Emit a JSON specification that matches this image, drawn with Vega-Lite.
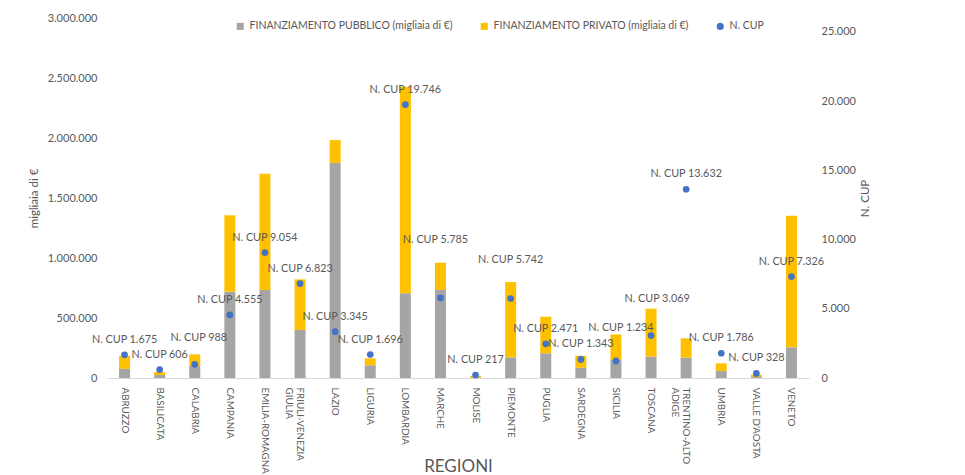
{
  "$schema": "https://vega.github.io/schema/vega-lite/v6.json",
  "width": 702,
  "height": 360,
  "autosize": {"type": "none"},
  "padding": {"left": 107, "top": 18, "right": 156, "bottom": 97},
  "background": "white",
  "config": {
    "view": {"stroke": null},
    "font": "Lato",
    "locale": {"number": {"decimal": ",", "thousands": ".", "grouping": [3], "currency": ["", " €"]}},
    "axis": {"labelColor": "#595959", "titleColor": "#595959", "labelFont": "Lato", "titleFont": "Lato", "grid": false, "ticks": false, "domain": false, "titleFontWeight": "normal"},
    "text": {"baseline": "middle", "align": "center", "fontSize": 10.8, "color": "#595959", "font": "Lato"}
  },
  "datasets": {
    "fin": [
      {"regione": "ABRUZZO", "serie": "FINANZIAMENTO PUBBLICO (migliaia di €)", "valore": 76000},
      {"regione": "ABRUZZO", "serie": "FINANZIAMENTO PRIVATO (migliaia di €)", "valore": 109000},
      {"regione": "BASILICATA", "serie": "FINANZIAMENTO PUBBLICO (migliaia di €)", "valore": 25000},
      {"regione": "BASILICATA", "serie": "FINANZIAMENTO PRIVATO (migliaia di €)", "valore": 25000},
      {"regione": "CALABRIA", "serie": "FINANZIAMENTO PUBBLICO (migliaia di €)", "valore": 100000},
      {"regione": "CALABRIA", "serie": "FINANZIAMENTO PRIVATO (migliaia di €)", "valore": 97000},
      {"regione": "CAMPANIA", "serie": "FINANZIAMENTO PUBBLICO (migliaia di €)", "valore": 719000},
      {"regione": "CAMPANIA", "serie": "FINANZIAMENTO PRIVATO (migliaia di €)", "valore": 637000},
      {"regione": "EMILIA-ROMAGNA", "serie": "FINANZIAMENTO PUBBLICO (migliaia di €)", "valore": 733000},
      {"regione": "EMILIA-ROMAGNA", "serie": "FINANZIAMENTO PRIVATO (migliaia di €)", "valore": 970000},
      {"regione": "FRIULI-VENEZIA GIULIA", "serie": "FINANZIAMENTO PUBBLICO (migliaia di €)", "valore": 400000},
      {"regione": "FRIULI-VENEZIA GIULIA", "serie": "FINANZIAMENTO PRIVATO (migliaia di €)", "valore": 422000},
      {"regione": "LAZIO", "serie": "FINANZIAMENTO PUBBLICO (migliaia di €)", "valore": 1792000},
      {"regione": "LAZIO", "serie": "FINANZIAMENTO PRIVATO (migliaia di €)", "valore": 191000},
      {"regione": "LIGURIA", "serie": "FINANZIAMENTO PUBBLICO (migliaia di €)", "valore": 106000},
      {"regione": "LIGURIA", "serie": "FINANZIAMENTO PRIVATO (migliaia di €)", "valore": 58000},
      {"regione": "LOMBARDIA", "serie": "FINANZIAMENTO PUBBLICO (migliaia di €)", "valore": 706000},
      {"regione": "LOMBARDIA", "serie": "FINANZIAMENTO PRIVATO (migliaia di €)", "valore": 1722000},
      {"regione": "MARCHE", "serie": "FINANZIAMENTO PUBBLICO (migliaia di €)", "valore": 733000},
      {"regione": "MARCHE", "serie": "FINANZIAMENTO PRIVATO (migliaia di €)", "valore": 228000},
      {"regione": "MOLISE", "serie": "FINANZIAMENTO PUBBLICO (migliaia di €)", "valore": 6000},
      {"regione": "MOLISE", "serie": "FINANZIAMENTO PRIVATO (migliaia di €)", "valore": 12000},
      {"regione": "PIEMONTE", "serie": "FINANZIAMENTO PUBBLICO (migliaia di €)", "valore": 172000},
      {"regione": "PIEMONTE", "serie": "FINANZIAMENTO PRIVATO (migliaia di €)", "valore": 628000},
      {"regione": "PUGLIA", "serie": "FINANZIAMENTO PUBBLICO (migliaia di €)", "valore": 206000},
      {"regione": "PUGLIA", "serie": "FINANZIAMENTO PRIVATO (migliaia di €)", "valore": 305000},
      {"regione": "SARDEGNA", "serie": "FINANZIAMENTO PUBBLICO (migliaia di €)", "valore": 85000},
      {"regione": "SARDEGNA", "serie": "FINANZIAMENTO PRIVATO (migliaia di €)", "valore": 100000},
      {"regione": "SICILIA", "serie": "FINANZIAMENTO PUBBLICO (migliaia di €)", "valore": 150000},
      {"regione": "SICILIA", "serie": "FINANZIAMENTO PRIVATO (migliaia di €)", "valore": 213000},
      {"regione": "TOSCANA", "serie": "FINANZIAMENTO PUBBLICO (migliaia di €)", "valore": 178000},
      {"regione": "TOSCANA", "serie": "FINANZIAMENTO PRIVATO (migliaia di €)", "valore": 400000},
      {"regione": "TRENTINO-ALTO ADIGE", "serie": "FINANZIAMENTO PUBBLICO (migliaia di €)", "valore": 169000},
      {"regione": "TRENTINO-ALTO ADIGE", "serie": "FINANZIAMENTO PRIVATO (migliaia di €)", "valore": 162000},
      {"regione": "UMBRIA", "serie": "FINANZIAMENTO PUBBLICO (migliaia di €)", "valore": 58000},
      {"regione": "UMBRIA", "serie": "FINANZIAMENTO PRIVATO (migliaia di €)", "valore": 64000},
      {"regione": "VALLE D'AOSTA", "serie": "FINANZIAMENTO PUBBLICO (migliaia di €)", "valore": 8000},
      {"regione": "VALLE D'AOSTA", "serie": "FINANZIAMENTO PRIVATO (migliaia di €)", "valore": 19000},
      {"regione": "VENETO", "serie": "FINANZIAMENTO PUBBLICO (migliaia di €)", "valore": 256000},
      {"regione": "VENETO", "serie": "FINANZIAMENTO PRIVATO (migliaia di €)", "valore": 1096000}
    ],
    "cup": [
      {"regione": "ABRUZZO", "cup": 1675, "etichetta": "N. CUP 1.675"},
      {"regione": "BASILICATA", "cup": 606, "etichetta": "N. CUP 606"},
      {"regione": "CALABRIA", "cup": 988, "etichetta": "N. CUP 988"},
      {"regione": "CAMPANIA", "cup": 4555, "etichetta": "N. CUP 4.555"},
      {"regione": "EMILIA-ROMAGNA", "cup": 9054, "etichetta": "N. CUP 9.054"},
      {"regione": "FRIULI-VENEZIA GIULIA", "cup": 6823, "etichetta": "N. CUP 6.823"},
      {"regione": "LAZIO", "cup": 3345, "etichetta": "N. CUP 3.345"},
      {"regione": "LIGURIA", "cup": 1696, "etichetta": "N. CUP 1.696"},
      {"regione": "LOMBARDIA", "cup": 19746, "etichetta": "N. CUP 19.746"},
      {"regione": "MARCHE", "cup": 5785, "etichetta": "N. CUP 5.785"},
      {"regione": "MOLISE", "cup": 217, "etichetta": "N. CUP 217"},
      {"regione": "PIEMONTE", "cup": 5742, "etichetta": "N. CUP 5.742"},
      {"regione": "PUGLIA", "cup": 2471, "etichetta": "N. CUP 2.471"},
      {"regione": "SARDEGNA", "cup": 1343, "etichetta": "N. CUP 1.343"},
      {"regione": "SICILIA", "cup": 1234, "etichetta": "N. CUP 1.234"},
      {"regione": "TOSCANA", "cup": 3069, "etichetta": "N. CUP 3.069"},
      {"regione": "TRENTINO-ALTO ADIGE", "cup": 13632, "etichetta": "N. CUP 13.632"},
      {"regione": "UMBRIA", "cup": 1786, "etichetta": "N. CUP 1.786"},
      {"regione": "VALLE D'AOSTA", "cup": 328, "etichetta": "N. CUP 328"},
      {"regione": "VENETO", "cup": 7326, "etichetta": "N. CUP 7.326"}
    ]
  },
  "encoding": {
    "x": {
      "field": "regione", "type": "nominal", "sort": null,
      "scale": {"paddingInner": 0, "paddingOuter": 0},
      "axis": {
        "title": "REGIONI", "titleFontSize": 17, "titleY": 88, "titleBaseline": "middle",
        "labelAngle": 90, "labelFontSize": 9.8, "labelPadding": 9, "labelLineHeight": 11, "labelLimit": 0,
        "domain": true, "domainColor": "#d9d9d9", "domainWidth": 1,
        "labelExpr": "datum.value == 'FRIULI-VENEZIA GIULIA' ? ['FRIULI-VENEZIA', 'GIULIA'] : datum.value == 'TRENTINO-ALTO ADIGE' ? ['TRENTINO-ALTO', 'ADIGE'] : datum.value"
      }
    }
  },
  "layer": [
    {
      "data": {"name": "fin"},
      "mark": {"type": "bar", "width": 11},
      "encoding": {
        "y": {
          "field": "valore", "type": "quantitative", "stack": "zero",
          "scale": {"domain": [0, 3000000]},
          "axis": {"title": "migliaia di €", "titleFontSize": 11.5, "labelFontSize": 11, "tickCount": 6, "labelPadding": 10, "titlePadding": 8, "format": ",.0f"}
        },
        "color": {
          "field": "serie", "type": "nominal",
          "scale": {"domain": ["FINANZIAMENTO PUBBLICO (migliaia di €)", "FINANZIAMENTO PRIVATO (migliaia di €)", "N. CUP"], "range": ["#A5A5A5", "#FFC000", "#4472C4"]},
          "legend": {
            "title": null, "orient": "none", "legendX": 128, "legendY": 3, "direction": "horizontal",
            "labelFontSize": 10.5, "labelColor": "#595959", "labelFont": "Lato", "labelLimit": 0, "symbolSize": 50, "columnPadding": 26, "labelOffset": 4,
            "encode": {"symbols": {"update": {"shape": {"signal": "datum.value === 'N. CUP' ? 'circle' : 'square'"}}}}
          }
        },
        "order": {"field": "serie", "sort": "descending"}
      }
    },
    {
      "data": {"name": "cup"},
      "layer": [
        {
          "mark": {"type": "point", "filled": true, "size": 45, "opacity": 1},
          "encoding": {
            "y": {
              "field": "cup", "type": "quantitative",
              "scale": {"domain": [0, 25000]},
              "axis": {"orient": "right", "title": "N. CUP", "titleAngle": 270, "titleFontSize": 11.5, "labelFontSize": 11, "tickCount": 5, "labelPadding": 12, "titlePadding": 15, "format": ",.0f"}
            },
            "color": {"datum": "N. CUP"}
          }
        },
        {
          "transform": [{"filter": "indexof(['CALABRIA','SICILIA','MARCHE','PIEMONTE','TOSCANA'], datum.regione) < 0"}],
          "mark": {"type": "text", "dy": -15},
          "encoding": {"y": {"field": "cup", "type": "quantitative"}, "text": {"field": "etichetta", "type": "nominal"}}
        },
        {
          "transform": [{"filter": "datum.regione == 'CALABRIA'"}],
          "mark": {"type": "text", "dy": -26, "dx": 4},
          "encoding": {"y": {"field": "cup", "type": "quantitative"}, "text": {"field": "etichetta", "type": "nominal"}}
        },
        {
          "transform": [{"filter": "datum.regione == 'SICILIA'"}],
          "mark": {"type": "text", "dy": -33, "dx": 5},
          "encoding": {"y": {"field": "cup", "type": "quantitative"}, "text": {"field": "etichetta", "type": "nominal"}}
        },
        {
          "transform": [{"filter": "datum.regione == 'MARCHE'"}],
          "mark": {"type": "text", "dy": -58, "dx": -5},
          "encoding": {"y": {"field": "cup", "type": "quantitative"}, "text": {"field": "etichetta", "type": "nominal"}}
        },
        {
          "transform": [{"filter": "datum.regione == 'PIEMONTE'"}],
          "mark": {"type": "text", "dy": -38},
          "encoding": {"y": {"field": "cup", "type": "quantitative"}, "text": {"field": "etichetta", "type": "nominal"}}
        },
        {
          "transform": [{"filter": "datum.regione == 'TOSCANA'"}],
          "mark": {"type": "text", "dy": -37, "dx": 6},
          "encoding": {"y": {"field": "cup", "type": "quantitative"}, "text": {"field": "etichetta", "type": "nominal"}}
        }
      ]
    }
  ],
  "resolve": {"scale": {"y": "independent"}}
}
